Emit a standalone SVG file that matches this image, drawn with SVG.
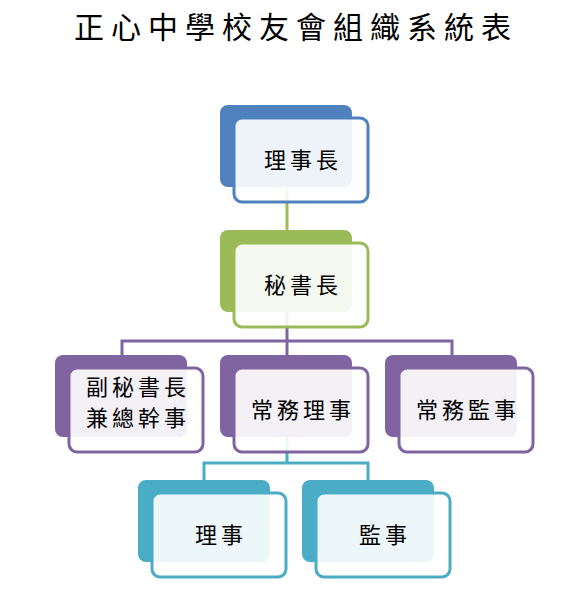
<svg xmlns="http://www.w3.org/2000/svg" width="580" height="595" viewBox="0 0 580 595">
<style>
.back{stroke:none}
.front{fill:#ffffff;fill-opacity:0.9;stroke-width:3}
.lbl{font-family:"Noto Sans CJK TC","Noto Sans CJK SC",sans-serif;font-size:22px;fill:#000;text-anchor:middle;letter-spacing:4px}
.title{font-family:"Noto Sans CJK TC","Noto Sans CJK SC",sans-serif;font-size:30px;fill:#000;text-anchor:middle;letter-spacing:7px}
.con{fill:none;stroke-width:3}
.blue .back{fill:#4f81bd}.blue .front{stroke:#4f81bd}
.green .back{fill:#9bbb59}.green .front{stroke:#9bbb59}
.purple .back{fill:#8064a2}.purple .front{stroke:#8064a2}
.teal .back{fill:#4bacc6}.teal .front{stroke:#4bacc6}
</style>
<rect width="580" height="595" fill="#ffffff"/>
<text class="title" x="296" y="38">正心中學校友會組織系統表</text>
<g id="connectors">
<path class="con" stroke="#9bbb59" d="M287 187V230"/>
<path class="con" stroke="#8064a2" d="M287 312V341M122 355V341H452V355M287 341V355"/>
<path class="con" stroke="#4bacc6" d="M287 437V463M204 480V463H368V480"/>
</g>
<g id="n1" class="blue">
<rect class="back" x="220" y="105" width="132" height="82" rx="8"/>
<rect class="front" x="234" y="118" width="134" height="84" rx="8"/>
<text class="lbl" x="303" y="168">理事長</text>
</g>
<g id="n2" class="green">
<rect class="back" x="220" y="230" width="132" height="82" rx="8"/>
<rect class="front" x="234" y="243" width="134" height="84" rx="8"/>
<text class="lbl" x="303" y="293">秘書長</text>
</g>
<g id="n3" class="purple">
<rect class="back" x="55" y="355" width="132" height="82" rx="8"/>
<rect class="front" x="69" y="368" width="134" height="84" rx="8"/>
<text class="lbl" x="138" y="395">副秘書長</text>
<text class="lbl" x="138" y="426">兼總幹事</text>
</g>
<g id="n4" class="purple">
<rect class="back" x="220" y="355" width="132" height="82" rx="8"/>
<rect class="front" x="234" y="368" width="134" height="84" rx="8"/>
<text class="lbl" x="303" y="418">常務理事</text>
</g>
<g id="n5" class="purple">
<rect class="back" x="385" y="355" width="132" height="82" rx="8"/>
<rect class="front" x="399" y="368" width="134" height="84" rx="8"/>
<text class="lbl" x="468" y="418">常務監事</text>
</g>
<g id="n6" class="teal">
<rect class="back" x="138" y="480" width="132" height="82" rx="8"/>
<rect class="front" x="152" y="493" width="134" height="84" rx="8"/>
<text class="lbl" x="221" y="543">理事</text>
</g>
<g id="n7" class="teal">
<rect class="back" x="302" y="480" width="132" height="82" rx="8"/>
<rect class="front" x="316" y="493" width="134" height="84" rx="8"/>
<text class="lbl" x="385" y="543">監事</text>
</g>
</svg>
